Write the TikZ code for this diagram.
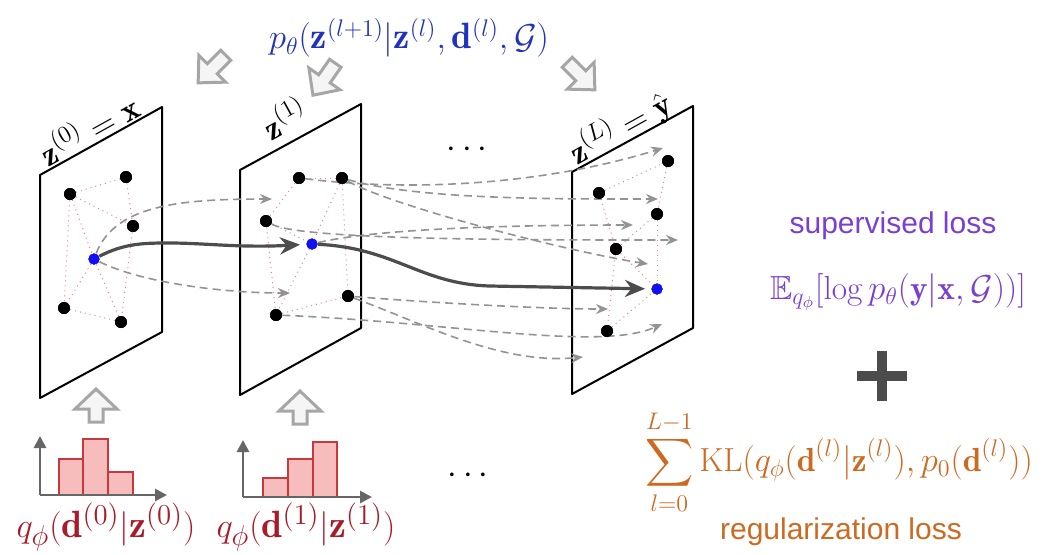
\documentclass[tikz,border=0pt]{standalone}
\usepackage{amsmath,amssymb}
\usepackage{fontspec}
\setsansfont{Liberation Sans}
\usetikzlibrary{arrows.meta}
\definecolor{tblue}{HTML}{2233BB}
\definecolor{tpurple}{HTML}{7A3FD0}
\definecolor{torange}{HTML}{CC6A22}
\definecolor{tred}{HTML}{A81C2A}
\definecolor{pinkedge}{HTML}{DD8888}
\definecolor{barfill}{HTML}{F7BDBD}
\definecolor{baredge}{HTML}{C8383C}
\definecolor{dotblue}{HTML}{1010F0}
\tikzset{
  panel/.style={draw=black,fill=white,line width=1pt,line join=round},
  dot/.style={circle,fill=black,inner sep=0pt,minimum size=6pt},
  bdot/.style={circle,fill=dotblue,inner sep=0pt,minimum size=5.6pt},
  gedge/.style={draw=pinkedge,dotted,line width=0.5pt},
  darrow/.style={draw=gray!85,dash pattern=on 4pt off 2.5pt,line width=0.8pt,-{Stealth[length=6pt,width=5pt]}},
  mainarrow/.style={draw=black!70,line width=1.6pt,-{Stealth[length=10pt,width=8.5pt]}},
  barrow/.style={draw=gray!70,fill=gray!8,line width=1.5pt,line join=miter},
  axis/.style={draw=black!60,line width=1.4pt,-{Triangle[length=6pt,width=6pt]}},
  bar/.style={draw=baredge,fill=barfill,line width=1.4pt},
  blockarr/.pic={\path[barrow] (0,-21) -- (19,-1) -- (7,-1) -- (7,18) -- (-7,18) -- (-7,-1) -- (-19,-1) -- cycle;},
  upblock/.pic={\path[barrow] (0,-17) -- (21,3) -- (7,3) -- (7,16) -- (-7,16) -- (-7,3) -- (-21,3) -- cycle;}
}
\begin{document}
\begin{tikzpicture}[x=0.5pt,y=-0.5pt]
\useasboundingbox (0,0) rectangle (1048,554);

% panels
\draw[panel] (40,175) -- (162,107) -- (162,332) -- (40,398) -- cycle;
\draw[panel] (240,170) -- (361,104) -- (361,328) -- (240,395) -- cycle;
\draw[panel] (572,172) -- (693,106) -- (693,328) -- (572,394) -- cycle;

% panel labels
\node[rotate=29,font=\fontsize{16.5}{19}\selectfont] (lab0) at (88,128) {$\mathbf{z}^{(0)}=\mathbf{x}$};
\node[rotate=29,font=\fontsize{16.5}{19}\selectfont] (lab1) at (284,117) {$\mathbf{z}^{(1)}$};
\node[rotate=29,font=\fontsize{16.5}{19}\selectfont] (labL) at (620,128) {$\mathbf{z}^{(L)}=\hat{\mathbf{y}}$};

% nodes panel 0
\node[dot] (a1) at (70,194) {};
\node[dot] (a2) at (126,177) {};
\node[dot] (a3) at (133,226) {};
\node[bdot] (a0) at (94,259) {};
\node[dot] (a4) at (64,308) {};
\node[dot] (a5) at (121,322) {};
% nodes panel 1
\node[dot] (b1) at (299,178) {};
\node[dot] (b2) at (342,178) {};
\node[dot] (b3) at (266,221) {};
\node[bdot] (b0) at (312,244) {};
\node[dot] (b4) at (348,296) {};
\node[dot] (b5) at (276,315) {};
% nodes panel L
\node[dot] (c1) at (668,161) {};
\node[dot] (c2) at (599,193) {};
\node[dot] (c3) at (657,214) {};
\node[dot] (c4) at (616,249) {};
\node[bdot] (c0) at (657,289) {};
\node[dot] (c5) at (607,331) {};

% graph edges
\foreach \u/\v in {a1/a2,a1/a3,a1/a0,a1/a4,a2/a3,a3/a5,a0/a4,a0/a5,a4/a5,
                   b1/b2,b1/b3,b3/b0,b2/b0,b2/b4,b0/b5,b3/b5,b5/b4,
                   c2/c1,c1/c3,c2/c4,c3/c4,c4/c0,c4/c5,c5/c0,c3/c0}
  \draw[gedge] (\u) -- (\v);

% targets of dashed arrows
\coordinate (s1) at (272,199);
\coordinate (s2) at (290,293);
\coordinate (t1) at (663,148);
\coordinate (t2) at (658,199);
\coordinate (t3) at (633,225);
\coordinate (t4) at (678,240);
\coordinate (t5) at (648,264);
\coordinate (t6) at (608,309);
\coordinate (t7) at (662,324);
\coordinate (t8) at (583,357);

% dashed arrows
\draw[darrow] (a0) .. controls (115,205) and (180,199) .. (s1);
\draw[darrow] (a0) .. controls (140,282) and (220,293) .. (s2);
\draw[darrow] (b1) .. controls (430,194) and (560,180) .. (t1);
\draw[darrow] (b2) .. controls (420,200) and (560,199) .. (t2);
\draw[darrow] (b0) .. controls (380,228) and (520,225) .. (t3);
\draw[darrow] (b3) .. controls (300,240) and (520,240) .. (t4);
\draw[darrow] (b2) .. controls (390,205) and (560,250) .. (t5);
\draw[darrow] (b4) .. controls (420,302) and (540,309) .. (t6);
\draw[darrow] (b5) .. controls (450,322) and (600,352) .. (t7);
\draw[darrow] (b4) .. controls (420,322) and (500,365) .. (t8);

% main arrow
\draw[mainarrow,shorten >=3pt] (a0) .. controls (125,243) and (145,243) .. (170,243)
   .. controls (205,243) and (240,248) .. (b0);
\draw[mainarrow,shorten >=3pt] (b0) .. controls (395,248) and (420,284) .. (490,286) -- (c0);

% redraw dots on top
\foreach \n in {a1,a2,a3,a4,a5,b1,b2,b3,b4,b5,c1,c2,c3,c4,c5}
  \fill[black] (\n) circle (3pt);
\foreach \n in {a0,b0,c0}
  \fill[dotblue] (\n) circle (2.8pt);

% ellipses
\node[font=\fontsize{18}{21}\selectfont] (dots1) at (470,150) {$\cdots$};
\node[font=\fontsize{18}{21}\selectfont] (dots2) at (471,476) {$\cdots$};

% block arrows top
\pic[rotate=135] at (213,68) {blockarr};
\pic[rotate=145] at (325,78) {blockarr};
\pic[rotate=225] at (580,75) {blockarr};
% block arrows bottom
\pic at (96,406) {upblock};
\pic at (300,408) {upblock};

% top formula
\node[text=tblue,font=\fontsize{18.3}{21}\selectfont] (ptheta) at (409,38)
  {$p_\theta(\mathbf{z}^{(l+1)}|\mathbf{z}^{(l)},\mathbf{d}^{(l)},\mathcal{G})$};

% histogram 0
\draw[bar] (59,495) rectangle (83,459);
\draw[bar] (83,495) rectangle (108,439);
\draw[bar] (108,495) rectangle (133,472);
\draw[axis] (40,495) -- (40,436);
\draw[axis] (40,495) -- (167,495);
% histogram 1
\draw[bar] (263,497) rectangle (288,478);
\draw[bar] (288,497) rectangle (313,459);
\draw[bar] (313,497) rectangle (337,442);
\draw[axis] (243,497) -- (243,440);
\draw[axis] (243,497) -- (372,497);

% bottom labels
\node[text=tred,font=\fontsize{19}{22}\selectfont] (q0) at (106,527)
  {$q_\phi(\mathbf{d}^{(0)}|\mathbf{z}^{(0)})$};
\node[text=tred,font=\fontsize{19}{22}\selectfont] (q1) at (306,527)
  {$q_\phi(\mathbf{d}^{(1)}|\mathbf{z}^{(1)})$};

% right side
\node[text=tpurple,font=\sffamily\fontsize{15}{18}\selectfont] (sup) at (893,226) {supervised loss};
\node[text=tpurple,font=\fontsize{16.7}{19}\selectfont] (Eq) at (898,292)
  {$\mathbb{E}_{q_\phi}[\log p_\theta(\mathbf{y}|\mathbf{x},\mathcal{G}))]$};
\draw[black!70,line width=5pt] (857,376) -- (907,376);
\draw[black!70,line width=5pt] (882,351) -- (882,401);
\node[text=torange,font=\fontsize{16.7}{19}\selectfont] (KL) at (839,462)
  {$\displaystyle\sum_{l=0}^{L-1}\mathrm{KL}(q_\phi(\mathbf{d}^{(l)}|\mathbf{z}^{(l)}),p_0(\mathbf{d}^{(l)}))$};
\node[text=torange,font=\sffamily\fontsize{15}{18}\selectfont] (reg) at (841,532) {regularization loss};
\end{tikzpicture}
\end{document}
